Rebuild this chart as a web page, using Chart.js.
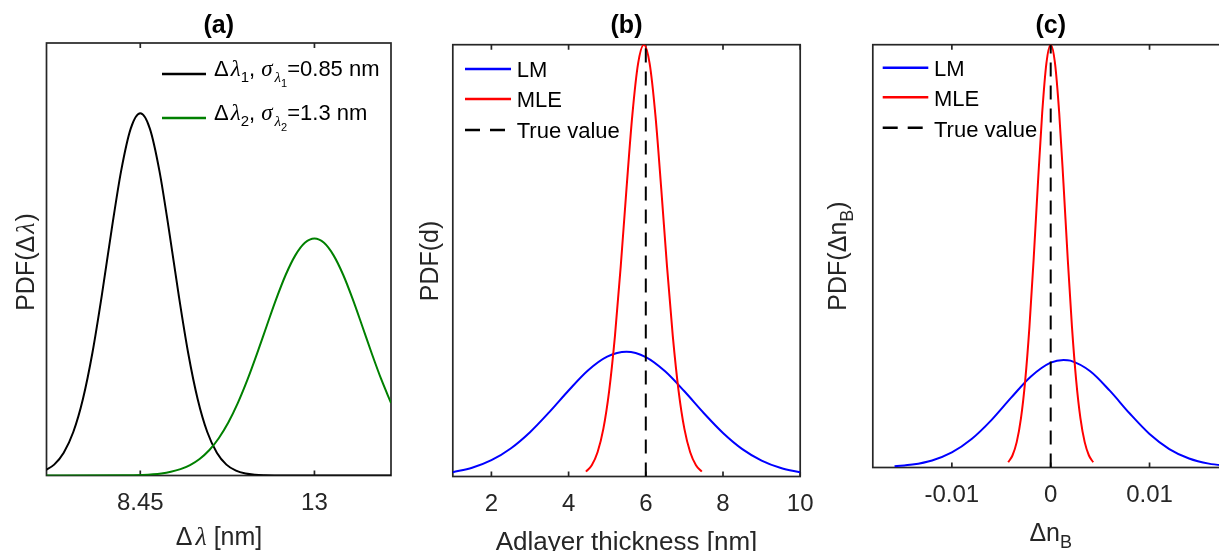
<!DOCTYPE html>
<html>
<head>
<meta charset="utf-8">
<script src="https://cdn.jsdelivr.net/npm/chart.js@4.4.1/dist/chart.umd.min.js"></script>
<style>
  html, body { margin: 0; padding: 0; background: #fff; }
  body { width: 1219px; height: 551px; overflow: hidden; position: relative; }
  canvas { position: absolute; left: 0; top: 0; }
</style>
</head>
<body>
<canvas id="panelA" width="1240" height="551"></canvas>
<canvas id="panelB" width="1240" height="551"></canvas>
<canvas id="panelC" width="1240" height="551"></canvas>
<script>
// ---- (a) wavelength-shift PDFs ----
const aTicks = [8.45, 13];
const aTickLabels = ['8.45', '13'];
const aBlackX = [5.95, 6.2, 6.45, 6.7, 6.95, 7.2, 7.45, 7.7, 7.95, 8.2, 8.45, 8.7, 8.95, 9.2, 9.45, 9.7,
  9.95, 10.2, 10.45, 10.7, 10.95, 11.2, 11.45, 11.7, 11.95, 13, 15];
const aBlackY = [0.0062, 0.0141, 0.0295, 0.0563, 0.0988, 0.159, 0.2348, 0.3178, 0.3945, 0.4492, 0.469,
  0.4492, 0.3945, 0.3178, 0.2348, 0.159, 0.0988, 0.0563, 0.0295, 0.0141, 0.0062, 0.0025, 0.0009, 0.0003,
  0.0001, 0, 0];
const aGreenX = [6, 8, 8.5, 9, 9.25, 9.5, 9.75, 10, 10.25, 10.5, 10.75, 11, 11.25, 11.5, 11.75, 12, 12.25,
  12.5, 12.75, 13, 13.25, 13.5, 13.75, 14, 14.25, 14.5, 14.75, 15];
const aGreenY = [0, 0.0002, 0.0008, 0.0027, 0.0048, 0.0082, 0.0135, 0.0214, 0.0327, 0.0483, 0.0686, 0.094,
  0.124, 0.1577, 0.1933, 0.2283, 0.2599, 0.285, 0.3013, 0.3069, 0.3013, 0.285, 0.2599, 0.2283, 0.1933,
  0.1577, 0.124, 0.094];

// ---- (b) adlayer thickness PDFs ----
const bTicks = [2, 4, 6, 8, 10];
const bTickLabels = ['2', '4', '6', '8', '10'];
const bLmX = [1, 1.5, 2, 2.5, 3, 3.5, 4, 4.5, 5, 5.5, 6, 6.5, 7, 7.5, 8, 8.5, 9, 9.5, 10];
const bLmY = [0.008, 0.0161, 0.0301, 0.0518, 0.0819, 0.119, 0.159, 0.196, 0.2216, 0.2306, 0.2207, 0.1944,
  0.1575, 0.1174, 0.0805, 0.0507, 0.0295, 0.0157, 0.0077];
const bMleX = [4.45, 4.6, 4.75, 4.9, 5.05, 5.2, 5.35, 5.5, 5.65, 5.8, 5.95, 6.1, 6.25, 6.4, 6.55, 6.7, 6.85,
  7.0, 7.15, 7.3, 7.45];
const bMleY = [0.0089, 0.0209, 0.0448, 0.088, 0.158, 0.259, 0.388, 0.532, 0.667, 0.763, 0.798, 0.763, 0.667,
  0.532, 0.388, 0.259, 0.158, 0.088, 0.0448, 0.0209, 0.0089];
const bTrueValue = 6;

// ---- (c) refractive index change PDFs ----
const cTicks = [-0.01, 0, 0.01];
const cTickLabels = ['-0.01', '0', '0.01'];
const cLmX = [-0.0158, -0.014, -0.012, -0.01, -0.008, -0.006, -0.004, -0.002, 0, 0.0013, 0.002, 0.004,
  0.006, 0.008, 0.01, 0.012, 0.014, 0.016, 0.018];
const cLmY = [0.78, 1.91, 4.6, 9.8, 18.5, 30.8, 45.4, 59.2, 68.2, 70, 69.5, 62.6, 49.8, 35.1, 21.8, 12.0,
  5.85, 2.51, 0.96];
const cMleX = [-0.0043, -0.00387, -0.00344, -0.00301, -0.00258, -0.00215, -0.00172, -0.00129, -0.00086,
  -0.00043, 0, 0.00043, 0.00086, 0.00129, 0.00172, 0.00215, 0.00258, 0.00301, 0.00344, 0.00387, 0.0043];
const cMleY = [3.38, 7.81, 16.5, 31.9, 56.5, 91.6, 136.1, 185.1, 230.7, 263.2, 275, 263.2, 230.7, 185.1,
  136.1, 91.6, 56.5, 31.9, 16.5, 7.81, 3.38];
const cTrueValue = 0;

const SANS = '"Liberation Sans", Arial, Helvetica, sans-serif';
const SERIF = '"Liberation Serif", "DejaVu Serif", serif';
const AXIS = '#262626';
const CANVAS_W = 1240;
const CANVAS_H = 551;
const X_AXIS_H = 40;
const TICK_LEN = 5;

const sans = (px, weight = '') => `${weight} ${px}px ${SANS}`.trim();
const ital = (px) => `italic ${px}px ${SERIF}`;

const pts = (xs, ys) => xs.map((x, i) => ({ x, y: ys[i] }));

function curve(data, color) {
  return {
    data, borderColor: color, borderWidth: 2, pointRadius: 0, fill: false,
    cubicInterpolationMode: 'monotone',
  };
}

function trueLine(x, yMax) {
  return {
    data: [{ x, y: 0 }, { x, y: yMax }], borderColor: '#000', borderWidth: 2,
    borderDash: [14, 9], pointRadius: 0, fill: false,
  };
}

// Draw a list of text runs (for sub/superscripts and mixed fonts) on one baseline.
function drawRuns(ctx, runs, x, y, align = 'left') {
  let total = 0;
  for (const r of runs) {
    ctx.font = r.font;
    r.w = ctx.measureText(r.t).width + (r.gap || 0);
    total += r.w;
  }
  let cx = align === 'center' ? x - total / 2 : x;
  ctx.textAlign = 'left';
  ctx.textBaseline = 'alphabetic';
  for (const r of runs) {
    ctx.font = r.font;
    ctx.fillText(r.t, cx, y + (r.dy || 0));
    cx += r.w;
  }
}

function drawVertical(ctx, runs, x, cy) {
  ctx.save();
  ctx.translate(x, cy);
  ctx.rotate(-Math.PI / 2);
  drawRuns(ctx, runs, 0, 0, 'center');
  ctx.restore();
}

function legendLine(ctx, x1, x2, y, color, dash) {
  ctx.save();
  ctx.strokeStyle = color;
  ctx.lineWidth = 2.5;
  ctx.setLineDash(dash || []);
  ctx.beginPath();
  ctx.moveTo(x1, y);
  ctx.lineTo(x2, y);
  ctx.stroke();
  ctx.restore();
}

// Axes box with inward ticks on top and bottom, drawn under the curves.
const framePlugin = {
  id: 'frame',
  beforeDatasetsDraw(chart) {
    const { ctx, chartArea: a, scales: { x } } = chart;
    ctx.save();
    ctx.strokeStyle = AXIS;
    ctx.lineWidth = 1.7;
    ctx.strokeRect(a.left, a.top, a.right - a.left, a.bottom - a.top);
    ctx.beginPath();
    for (const t of x.ticks) {
      const px = x.getPixelForValue(t.value);
      ctx.moveTo(px, a.bottom);
      ctx.lineTo(px, a.bottom - TICK_LEN);
      ctx.moveTo(px, a.top);
      ctx.lineTo(px, a.top + TICK_LEN);
    }
    ctx.stroke();
    ctx.restore();
  },
};

const textPlugin = {
  id: 'texts',
  afterDraw(chart, args, opts) {
    const ctx = chart.ctx;
    ctx.save();
    opts.draw(ctx, chart);
    ctx.restore();
  },
};

function makePanel(id, box, xMin, xMax, yMax, ticks, tickLabels, datasets, draw) {
  return new Chart(document.getElementById(id), {
    type: 'line',
    data: { datasets },
    plugins: [framePlugin, textPlugin],
    options: {
      responsive: false,
      animation: false,
      events: [],
      layout: {
        padding: {
          left: box.left, top: box.top, right: CANVAS_W - box.right,
          bottom: CANVAS_H - box.bottom - X_AXIS_H,
        },
      },
      plugins: { legend: { display: false }, tooltip: { enabled: false }, texts: { draw } },
      scales: {
        x: {
          type: 'linear', min: xMin, max: xMax,
          afterBuildTicks: (s) => { s.ticks = ticks.map((v) => ({ value: v })); },
          afterFit: (s) => { s.height = X_AXIS_H; },
          grid: { display: false, drawTicks: false },
          border: { display: false },
          ticks: {
            autoSkip: false, maxRotation: 0, padding: 13, color: AXIS,
            font: { family: SANS, size: 24 },
            callback: (v, i) => tickLabels[i],
          },
        },
        y: { type: 'linear', min: 0, max: yMax, display: false },
      },
    },
  });
}

// (a)
makePanel('panelA', { left: 46.5, top: 43, right: 391, bottom: 475.5 }, 6, 15, 0.56,
  aTicks, aTickLabels,
  [curve(pts(aGreenX, aGreenY), '#008000'), curve(pts(aBlackX, aBlackY), '#000000')],
  (ctx) => {
    ctx.fillStyle = '#000';
    drawRuns(ctx, [{ t: '(a)', font: sans(25, 'bold') }], 218.75, 33, 'center');
    ctx.fillStyle = AXIS;
    drawRuns(ctx, [
      { t: 'Δ', font: sans(25), gap: 3 }, { t: 'λ', font: ital(26) }, { t: ' [nm]', font: sans(25) },
    ], 219, 545, 'center');
    drawVertical(ctx, [
      { t: 'PDF(Δ', font: sans(25), gap: 2 }, { t: 'λ', font: ital(26), gap: 1 }, { t: ')', font: sans(25) },
    ], 34, 262);
    ctx.fillStyle = '#000';
    legendLine(ctx, 162, 206, 74, '#000000');
    drawRuns(ctx, [
      { t: 'Δ', font: sans(22), gap: 2 }, { t: 'λ', font: ital(23) },
      { t: '1', font: sans(15), dy: 6 }, { t: ', ', font: sans(22) },
      { t: 'σ', font: ital(23), gap: 2 }, { t: 'λ', font: ital(15), dy: 6 },
      { t: '1', font: sans(11), dy: 11 }, { t: '=0.85 nm', font: sans(22) },
    ], 214, 76);
    legendLine(ctx, 162, 206, 118, '#008000');
    drawRuns(ctx, [
      { t: 'Δ', font: sans(22), gap: 2 }, { t: 'λ', font: ital(23) },
      { t: '2', font: sans(15), dy: 6 }, { t: ', ', font: sans(22) },
      { t: 'σ', font: ital(23), gap: 2 }, { t: 'λ', font: ital(15), dy: 6 },
      { t: '2', font: sans(11), dy: 11 }, { t: '=1.3 nm', font: sans(22) },
    ], 214, 120);
  });

function lmMleLegend(ctx, x1, x2, tx, rows) {
  const items = [['LM', '#0000ff', null], ['MLE', '#ff0000', null], ['True value', '#000000', [15, 10]]];
  items.forEach(([label, color, dash], i) => {
    legendLine(ctx, x1, x2, rows[i][0], color, dash);
    ctx.fillStyle = '#000';
    drawRuns(ctx, [{ t: label, font: sans(22) }], tx, rows[i][1]);
  });
}

// (b)
makePanel('panelB', { left: 452.8, top: 44.7, right: 800.2, bottom: 476.5 }, 1, 10, 0.798,
  bTicks, bTickLabels,
  [trueLine(bTrueValue, 0.798), curve(pts(bMleX, bMleY), '#ff0000'), curve(pts(bLmX, bLmY), '#0000ff')],
  (ctx) => {
    ctx.fillStyle = '#000';
    drawRuns(ctx, [{ t: '(b)', font: sans(25, 'bold') }], 626.5, 33, 'center');
    ctx.fillStyle = AXIS;
    drawRuns(ctx, [{ t: 'Adlayer thickness [nm]', font: sans(26) }], 626.5, 549.5, 'center');
    drawVertical(ctx, [{ t: 'PDF(d)', font: sans(25) }], 438, 261);
    lmMleLegend(ctx, 465, 511, 516.7, [[69, 77], [99, 107], [130, 138]]);
  });

// (c)
makePanel('panelC', { left: 872.8, top: 44.7, right: 1228.6, bottom: 467.5 }, -0.018, 0.018, 275,
  cTicks, cTickLabels,
  [trueLine(cTrueValue, 275), curve(pts(cMleX, cMleY), '#ff0000'), curve(pts(cLmX, cLmY), '#0000ff')],
  (ctx) => {
    ctx.fillStyle = '#000';
    drawRuns(ctx, [{ t: '(c)', font: sans(25, 'bold') }], 1050.7, 33, 'center');
    ctx.fillStyle = AXIS;
    drawRuns(ctx, [
      { t: 'Δn', font: sans(25) }, { t: 'B', font: sans(18), dy: 7 },
    ], 1050.7, 540.5, 'center');
    drawVertical(ctx, [
      { t: 'PDF(Δn', font: sans(25) }, { t: 'B', font: sans(18), dy: 7 }, { t: ')', font: sans(25) },
    ], 846, 256);
    lmMleLegend(ctx, 882.7, 928.3, 934, [[67.7, 76], [97.3, 105.5], [127.7, 136.5]]);
  });
</script>
</body>
</html>
